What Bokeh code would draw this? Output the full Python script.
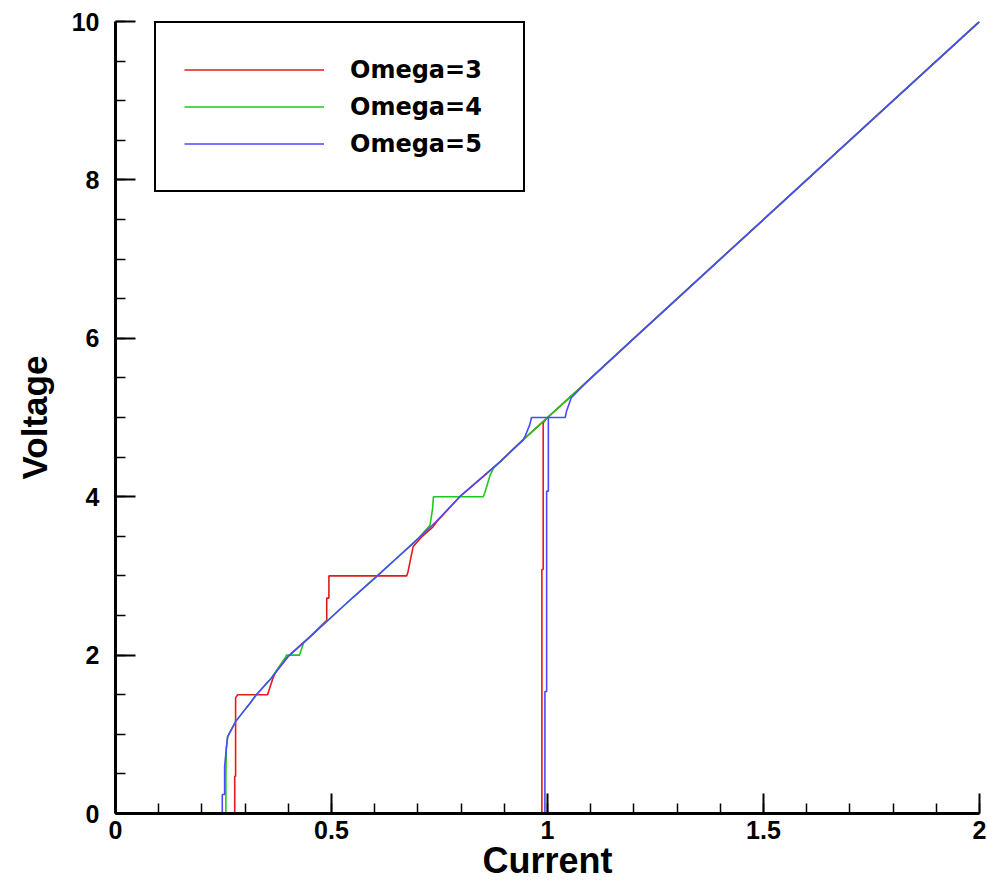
from bokeh.plotting import figure
from bokeh.models import Range1d, SingleIntervalTicker, CustomJSTickFormatter, Legend, LegendItem
from bokeh.embed import file_html
from bokeh.resources import INLINE

# ---- data ----
# Omega=3 : jump at I~0.99 on the up-sweep, then down-sweep with steps at V=3.0 and V=1.5
i_omega3 = [0.987, 0.987, 0.990, 0.990, 0.998, 1.091, 1.2, 1.4, 1.6, 1.8, 2.0,
            1.8, 1.6, 1.4, 1.2, 1.091, 0.998, 0.944, 0.890, 0.850, 0.797, 0.743, 0.735,
            0.710, 0.689, 0.677, 0.674, 0.494, 0.494, 0.489, 0.489, 0.450, 0.399, 0.370,
            0.364, 0.355, 0.352, 0.283, 0.278, 0.278, 0.276, 0.276]
v_omega3 = [0.0, 3.08, 3.08, 4.93, 4.99, 5.45, 6.0, 7.0, 8.0, 9.0, 10.0,
            9.0, 8.0, 7.0, 6.0, 5.45, 4.99, 4.72, 4.44, 4.25, 4.0, 3.68, 3.62,
            3.50, 3.37, 3.05, 3.0, 3.0, 2.72, 2.72, 2.44, 2.23, 1.98, 1.78,
            1.70, 1.55, 1.5, 1.5, 1.46, 0.47, 0.47, 0.0]

# Omega=4 : steps at V=4.0 and V=2.0
i_omega4 = [2.0, 1.8, 1.6, 1.4, 1.2, 1.091, 0.998, 0.944, 0.890, 0.875, 0.867, 0.855,
            0.851, 0.736, 0.734, 0.728, 0.700, 0.650, 0.604, 0.550, 0.492, 0.450, 0.435,
            0.426, 0.396, 0.392, 0.361, 0.326, 0.311, 0.295, 0.278, 0.2596, 0.2565,
            0.2555, 0.2555]
v_omega4 = [10.0, 9.0, 8.0, 7.0, 6.0, 5.45, 4.99, 4.72, 4.44, 4.36, 4.27, 4.05,
            4.0, 4.0, 3.85, 3.64, 3.47, 3.22, 2.99, 2.73, 2.44, 2.23, 2.15,
            2.0, 2.0, 1.96, 1.71, 1.5, 1.39, 1.28, 1.16, 0.97, 0.82,
            0.5, 0.0]

# Omega=5 : jump at I~1.0 on the up-sweep, step at V=5.0
i_omega5 = [0.994, 0.994, 0.998, 0.998, 1.002, 1.002, 1.041, 1.044, 1.055, 1.091, 1.2, 1.4,
            1.6, 1.8, 2.0, 1.8, 1.6, 1.4, 1.2, 1.091, 1.055, 1.044, 1.041, 0.963, 0.959,
            0.948, 0.944, 0.890, 0.850, 0.797, 0.743, 0.689, 0.650, 0.604, 0.550, 0.492,
            0.450, 0.399, 0.361, 0.326, 0.311, 0.295, 0.278, 0.2596, 0.2565, 0.2526,
            0.2526, 0.2472, 0.2472]
v_omega5 = [0.0, 1.54, 1.54, 4.07, 4.07, 5.0, 5.0, 5.08, 5.25, 5.45, 6.0, 7.0,
            8.0, 9.0, 10.0, 9.0, 8.0, 7.0, 6.0, 5.45, 5.25, 5.08, 5.0, 5.0, 4.91,
            4.76, 4.72, 4.44, 4.25, 4.0, 3.69, 3.41, 3.22, 2.99, 2.73, 2.44,
            2.23, 1.98, 1.71, 1.5, 1.39, 1.28, 1.16, 0.97, 0.82, 0.59,
            0.24, 0.24, 0.0]

labels = ["Omega=3", "Omega=4", "Omega=5"]
colors = ["#e41a1a", "#1ec81e", "#4a4aff"]
x_ticks_interval = 0.5
y_ticks_interval = 2

FONT = "Liberation Sans"

p = figure(width=987, height=886, output_backend="svg", toolbar_location=None,
           x_range=Range1d(0, 2), y_range=Range1d(0, 10),
           min_border_left=115, min_border_right=8, min_border_top=21, min_border_bottom=73)
p.outline_line_color = None
p.grid.visible = False
p.background_fill_color = "white"
p.border_fill_color = "white"

r3 = p.line(i_omega3, v_omega3, line_color=colors[0], line_width=1.6)
r4 = p.line(i_omega4, v_omega4, line_color=colors[1], line_width=1.6)
r5 = p.line(i_omega5, v_omega5, line_color=colors[2], line_width=1.6)

fmt = CustomJSTickFormatter(code="return String(+tick.toFixed(2));")

for ax, interval, nminor in ((p.xaxis[0], x_ticks_interval, 5), (p.yaxis[0], y_ticks_interval, 4)):
    ax.ticker = SingleIntervalTicker(interval=interval, num_minor_ticks=nminor)
    ax.formatter = fmt
    ax.axis_line_width = 3
    ax.axis_line_color = "black"
    ax.major_tick_in = 20
    ax.major_tick_out = 0
    ax.minor_tick_in = 10
    ax.minor_tick_out = 0
    ax.major_tick_line_width = 2
    ax.minor_tick_line_width = 1.5
    ax.major_tick_line_color = "black"
    ax.minor_tick_line_color = "black"
    ax.major_label_text_font = FONT
    ax.major_label_text_font_style = "bold"
    ax.major_label_text_font_size = "25px"
    ax.major_label_text_color = "black"
    ax.axis_label_text_font = FONT
    ax.axis_label_text_font_style = "bold"
    ax.axis_label_text_color = "black"

p.xaxis.axis_label = "Current"
p.xaxis.axis_label_text_font_size = "36px"
p.xaxis.major_label_standoff = 7
p.xaxis.axis_label_standoff = -2

p.yaxis.axis_label = "Voltage"
p.yaxis.axis_label_text_font_size = "35px"
p.yaxis.major_label_standoff = 16
p.yaxis.axis_label_standoff = 15

legend = Legend(items=[LegendItem(label=labels[0], renderers=[r3]),
                       LegendItem(label=labels[1], renderers=[r4]),
                       LegendItem(label=labels[2], renderers=[r5])],
                location=(39, 621))
legend.padding = 28
legend.spacing = 0
legend.glyph_width = 140
legend.glyph_height = 37
legend.label_height = 37
legend.label_width = 145
legend.label_standoff = 26
legend.label_text_font = "DejaVu Sans"
legend.label_text_font_style = "bold"
legend.label_text_font_size = "24px"
legend.label_text_color = "black"
legend.border_line_color = "black"
legend.border_line_alpha = 1.0
legend.border_line_width = 2
legend.background_fill_color = "white"
legend.background_fill_alpha = 1.0
legend.margin = 0
p.add_layout(legend, "center")

open("out.html", "w").write(file_html(p, INLINE))
